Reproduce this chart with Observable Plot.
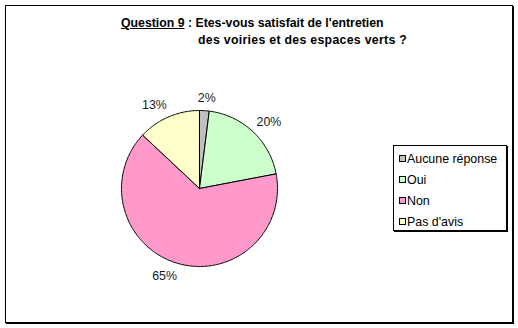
<!DOCTYPE html>
<html>
<head>
<meta charset="utf-8">
<script src="https://cdn.jsdelivr.net/npm/d3@7"></script>
<script src="https://cdn.jsdelivr.net/npm/@observablehq/plot@0.6"></script>
<style>
  html, body { margin: 0; padding: 0; background: #fff; }
  #wrap { position: relative; width: 518px; height: 328px; font-family: "Liberation Sans", Arial, sans-serif; }
  #wrap svg { position: absolute; left: 0; top: 0; }
  #title { position: absolute; left: 121px; top: 15px; font-weight: bold; font-size: 12.3px; line-height: 17px; color: #000; white-space: pre; }
  #title u { text-decoration: underline; }
  #title .l2 { padding-left: 77px; letter-spacing: 0.3px; }
  #legend { position: absolute; left: 393px; top: 145px; width: 112px; height: 84px; border: 1px solid #000; box-shadow: 1px 1px 0 #000; background: #fff; font-size: 12.4px; }
  .item { position: absolute; left: 5px; height: 14px; line-height: 14px; white-space: nowrap; }
  .sw { display: inline-block; width: 5px; height: 5px; border: 1px solid #000; margin-right: 1px; vertical-align: 1px; }
  #border { position: absolute; left: 5px; top: 5px; width: 506px; height: 316px; border: 1px solid #000; box-shadow: 1px 1px 0 #000; pointer-events: none; }
</style>
</head>
<body>
<div id="wrap">
  <div id="border"></div>
  <div id="title"></div>
  <div id="legend"></div>
</div>
<script>
// Data
const categories = ["Aucune réponse", "Oui", "Non", "Pas d'avis"];
const values = [2, 20, 65, 13];
const colors = ["#C0C0C0", "#CCFFCC", "#FF99CC", "#FFFFCC"];
const titleLead = "Question 9";
const titleLines = [" : Etes-vous satisfait de l'entretien", "des voiries et des espaces verts ?"];

// Layout
const W = 518, H = 328;
const cx = 199, cy = 188, R = 78;

const total = d3.sum(values);
let acc = 0;
const slices = categories.map((c, i) => {
  const a0 = acc / total * 2 * Math.PI;
  acc += values[i];
  const a1 = acc / total * 2 * Math.PI;
  return {category: c, value: values[i], a0, a1};
});

const polyPts = [];
for (const s of slices) {
  polyPts.push({category: s.category, x: cx, y: cy});
  const n = Math.max(2, Math.ceil((s.a1 - s.a0) / (Math.PI / 180)));
  for (let k = 0; k <= n; k++) {
    const a = s.a0 + (s.a1 - s.a0) * k / n;
    polyPts.push({category: s.category, x: cx + R * Math.sin(a), y: cy - R * Math.cos(a)});
  }
  polyPts.push({category: s.category, x: cx, y: cy});
}

const labels = slices.map(s => {
  const m = (s.a0 + s.a1) / 2;
  const rr = R + 7;
  const text = s.value + "%";
  const w = text.length * 7.5, h = 12;
  const sx = Math.max(-1, Math.min(1, Math.sin(m) * 4));
  return {
    text,
    x: cx + rr * Math.sin(m) + sx * w / 2,
    y: cy - rr * Math.cos(m) - Math.cos(m) * h / 2
  };
});

const chart = Plot.plot({
  width: W, height: H,
  margin: 0,
  x: {domain: [0, W], range: [0, W], axis: null},
  y: {domain: [0, H], range: [0, H], axis: null},
  color: {domain: categories, range: colors, legend: false},
  style: {background: "transparent", fontFamily: "'Liberation Sans', Arial, sans-serif"},
  marks: [
    Plot.line(polyPts, {x: "x", y: "y", z: "category", fill: "category", stroke: "#000", strokeWidth: 1, curve: "linear-closed"}),
    Plot.text(labels, {x: "x", y: "y", text: "text", fontSize: 12.4, fill: "#1a1a1a", textAnchor: "middle"})
  ]
});
document.getElementById("wrap").insertBefore(chart, document.getElementById("border"));

// Title
const t = document.getElementById("title");
t.innerHTML = "<u></u><span></span><br><span class='l2'></span>";
t.children[0].textContent = titleLead;
t.children[1].textContent = titleLines[0];
t.children[3].textContent = titleLines[1];

// Legend
const lg = document.getElementById("legend");
categories.forEach((c, i) => {
  const it = document.createElement("div");
  it.className = "item";
  it.style.top = (6 + i * 21) + "px";
  const sw = document.createElement("span");
  sw.className = "sw";
  sw.style.background = colors[i];
  it.appendChild(sw);
  it.appendChild(document.createTextNode(c));
  lg.appendChild(it);
});
</script>
</body>
</html>
